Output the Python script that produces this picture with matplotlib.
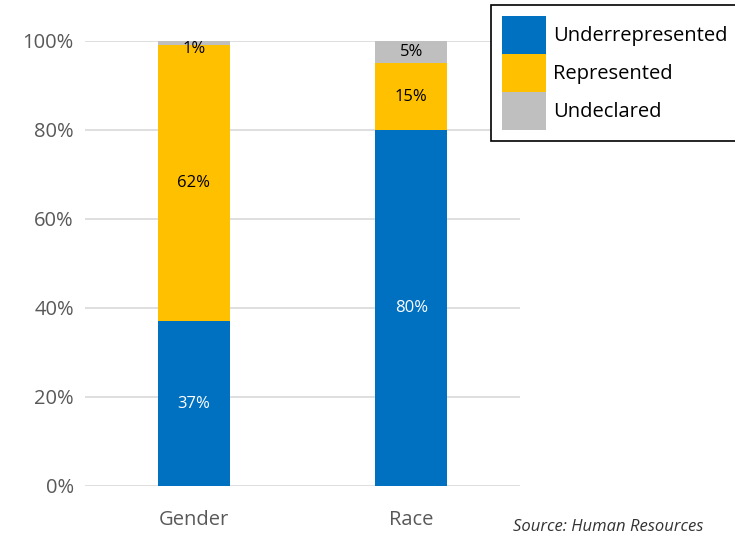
import numpy as np
import matplotlib.pyplot as plt

plt.rcParams['font.family'] = ['Open Sans', 'DejaVu Sans']

categories = ['Gender', 'Race']
series_names = ['Underrepresented', 'Represented', 'Undeclared']
underrepresented = [37, 80]
represented = [62, 15]
undeclared = [1, 5]
colors = ['#0070C0', '#FFC000', '#BFBFBF']
label_colors = ['white', 'black', 'black']

fig = plt.figure(figsize=(7.35, 5.37), dpi=100)
ax = fig.add_axes([0.1156, 0.095, 0.592, 0.8287])

x = np.arange(len(categories))
bottom = np.zeros(len(categories))
for name, vals, c, lc in zip(series_names, [underrepresented, represented, undeclared], colors, label_colors):
    vals = np.array(vals) / 100
    ax.bar(x, vals, 0.33, bottom=bottom, color=c, label=name, zorder=3)
    for xi, v, b in zip(x, vals, bottom):
        ypos = b + v / 2
        if v < 0.02:
            ypos = b + v - 0.017
        ax.text(xi, ypos, f'{round(v * 100)}%', ha='center', va='center',
                color=lc, fontsize=12, zorder=4)
    bottom += vals

ax.set_xlim(-0.5, 1.5)
ax.set_ylim(0, 1)
ticks = np.arange(0, 1.01, 0.2)
ax.set_yticks(ticks)
ax.set_yticklabels([f'{int(round(t * 100))}%' for t in ticks])
ax.set_xticks(x)
ax.set_xticklabels(categories)
ax.tick_params(axis='both', length=0, labelsize=14.5, colors='#595959', pad=8)
ax.tick_params(axis='x', pad=17)
ax.yaxis.grid(True, color='#D9D9D9', linewidth=1.2, zorder=0)
for s in ax.spines.values():
    s.set_visible(False)

leg = fig.legend(loc='upper left', bbox_to_anchor=(491 / 735, 1 - 5 / 537), fontsize=14.5,
                 handlelength=2.2, handleheight=2.53, labelspacing=0, handletextpad=0.35,
                 borderpad=0.55, borderaxespad=0, fancybox=False, edgecolor='black', framealpha=1)
leg.get_frame().set_linewidth(1.2)

fig.text(703 / 735, 1 - 527 / 537, 'Source: Human Resources', ha='right', va='center',
         fontsize=12, style='italic', color='#333333')

fig.savefig('out.png', dpi=100)
